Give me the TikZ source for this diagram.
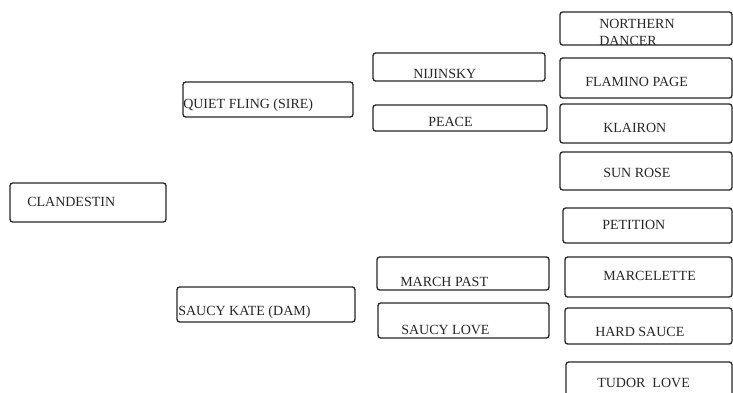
\documentclass[tikz,border=0pt]{standalone}
\usepackage{fontspec}
\setmainfont{Liberation Serif}
\begin{document}
\begin{tikzpicture}[x=0.75pt,y=-0.75pt,
  box/.style={draw=black!85,line width=1pt,rounded corners=2pt,inner sep=0pt},
  lbl/.style={anchor=west,inner sep=0pt,font=\fontsize{10.5}{11}\selectfont,text=black!85}]
\useasboundingbox (0,0) rectangle (733,393);
\clip (0,0) rectangle (733,393);
% boxes
\node[box,minimum width=117pt,minimum height=29.25pt] (cl) at (88,202.5) {};
\node[box,minimum width=127.5pt,minimum height=26.25pt] (qf) at (268,99.5) {};
\node[box,minimum width=133.5pt,minimum height=26.25pt] (sk) at (266,304.5) {};
\node[box,minimum width=129pt,minimum height=21pt] (nij) at (459,67) {};
\node[box,minimum width=130.5pt,minimum height=19.5pt] (pea) at (460,118) {};
\node[box,minimum width=129pt,minimum height=24.75pt] (mp) at (463,273.5) {};
\node[box,minimum width=128.25pt,minimum height=26.25pt] (sl) at (463.5,320.5) {};
\node[box,minimum width=129pt,minimum height=24.75pt] (nd) at (646,28.5) {};
\node[box,minimum width=129pt,minimum height=30pt] (fp) at (646,78) {};
\node[box,minimum width=129pt,minimum height=29.25pt] (kl) at (646,123.5) {};
\node[box,minimum width=129pt,minimum height=28.5pt] (sr) at (646,171) {};
\node[box,minimum width=126.75pt,minimum height=26.25pt] (pe) at (647.5,225.5) {};
\node[box,minimum width=125.25pt,minimum height=30pt] (ma) at (648.5,277) {};
\node[box,minimum width=125.25pt,minimum height=27pt] (hs) at (648.5,326) {};
\node[box,minimum width=124.5pt,minimum height=28.5pt] (tl) at (649,381) {};
% labels
\node[lbl] (tcl) at (27,202) {CLANDESTIN};
\node[lbl] (tqf) at (183,105) {QUIET FLING (SIRE)};
\node[lbl] (tsk) at (178,312) {SAUCY KATE (DAM)};
\node[lbl] (tnij) at (413,74) {NIJINSKY};
\node[lbl] (tpea) at (428,122) {PEACE};
\node[lbl] (tmp) at (400,282) {MARCH PAST};
\node[lbl] (tsl) at (401,330) {SAUCY LOVE};
\node[lbl] (tnd1) at (599,24) {NORTHERN};
\node[lbl] (tnd2) at (599,41) {DANCER};
\node[lbl] (tfp) at (585,82) {FLAMINO PAGE};
\node[lbl] (tkl) at (603,128) {KLAIRON};
\node[lbl] (tsr) at (603,173) {SUN ROSE};
\node[lbl] (tpe) at (602,225) {PETITION};
\node[lbl] (tma) at (603,276) {MARCELETTE};
\node[lbl] (ths) at (595,332) {HARD SAUCE};
\node[lbl] (ttl) at (597,383) {TUDOR\ \ LOVE};
\end{tikzpicture}
\end{document}
